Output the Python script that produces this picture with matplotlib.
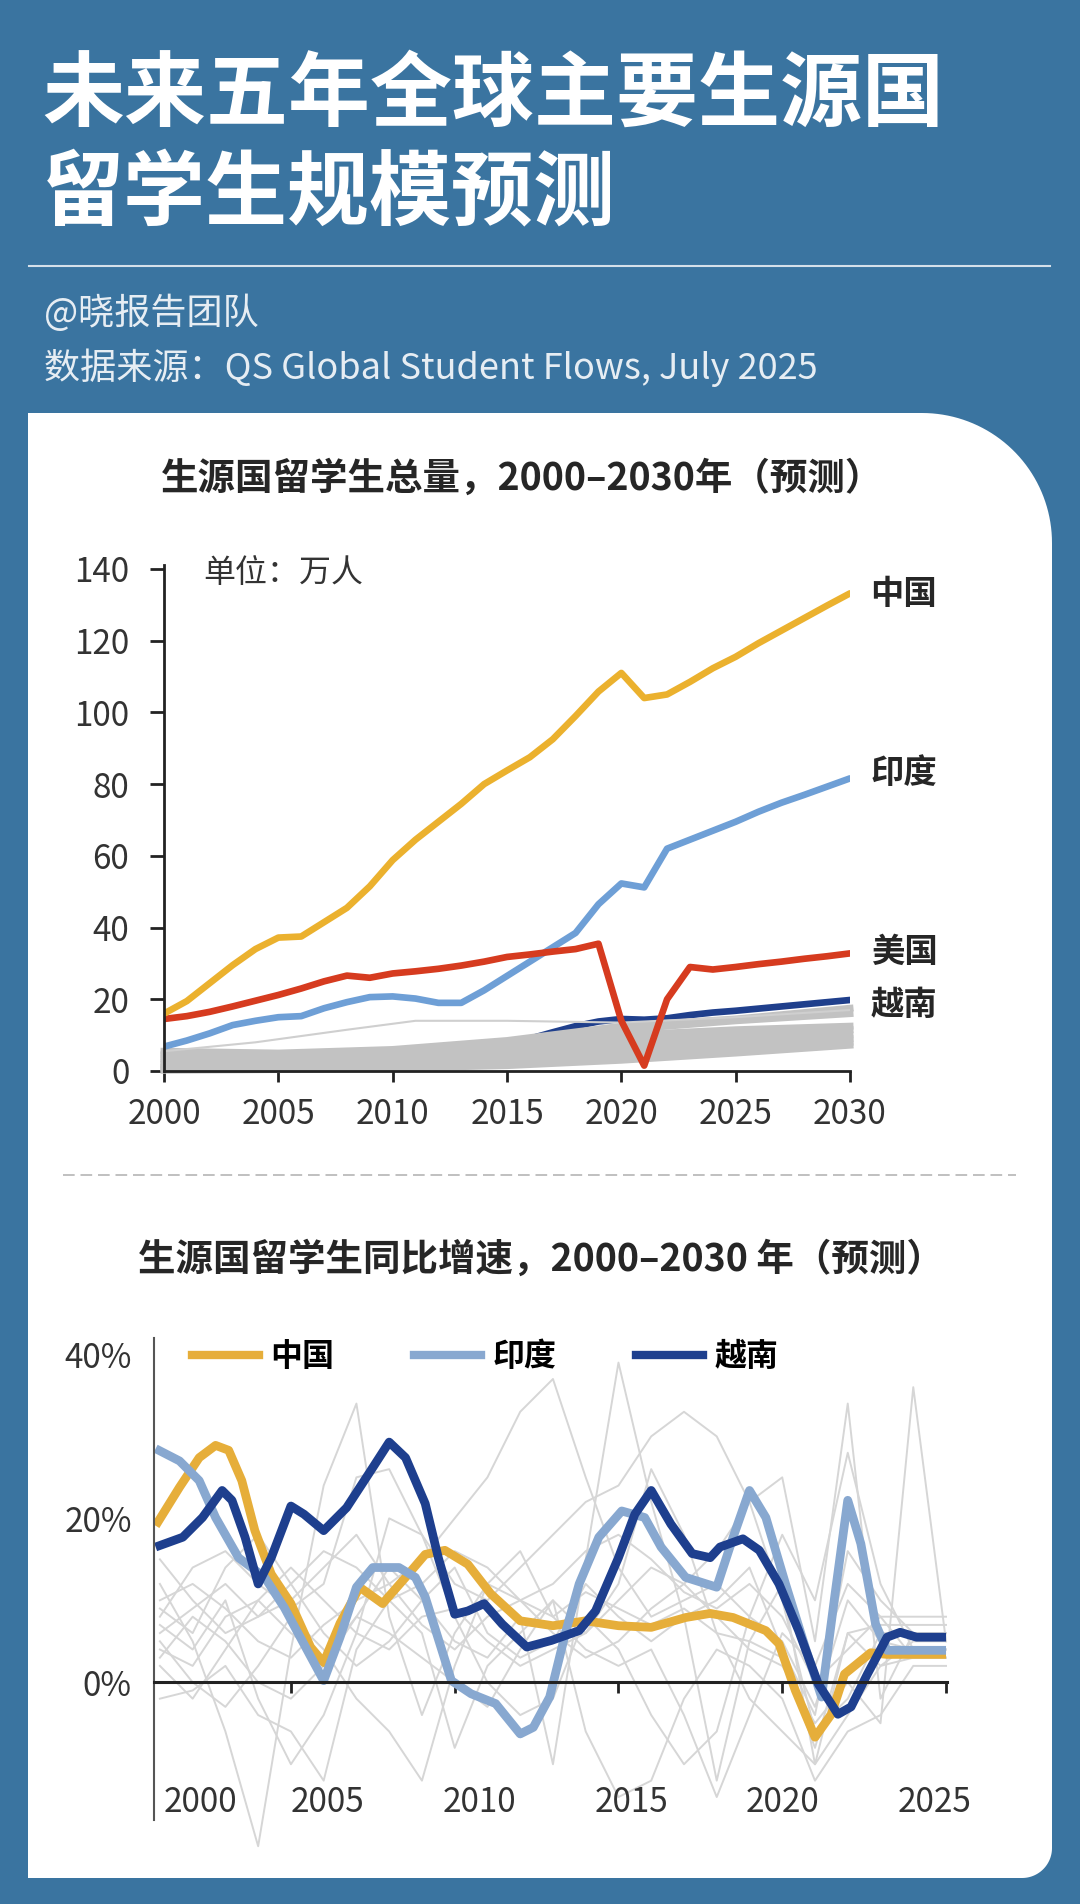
import numpy as np
import matplotlib
matplotlib.use('Agg')
from matplotlib import pyplot as plt
from matplotlib.patches import Polygon
from matplotlib.lines import Line2D
from matplotlib import transforms

plt.rcParams['font.family'] = ['Noto Sans CJK SC', 'DejaVu Sans']

##################################################################################
### DATA
##################################################################################

# chart 1: total outbound students (万人), 2000-2030
years1 = list(range(2000, 2031))
china_total = [16, 19.5, 24.5, 29.5, 34, 37.2, 37.5, 41.5, 45.5, 51.5, 58.8,
               64.5, 69.5, 74.5, 80, 83.8, 87.5, 92.5, 99, 105.8, 111,
               104, 105, 108.5, 112.3, 115.5, 119.3, 122.8, 126.3, 129.8, 133.2]
india_total = [6.8, 8.5, 10.5, 12.8, 14, 15, 15.3, 17.5, 19.2, 20.6, 20.8,
               20.2, 19, 19, 22.5, 26.5, 30.5, 34.5, 38.5, 46.5, 52.3,
               51.2, 62, 64.5, 67, 69.5, 72.3, 74.8, 77, 79.3, 81.6]
usa_total = [14.5, 15.3, 16.5, 18, 19.6, 21.2, 23, 25, 26.6, 26, 27.2,
             27.8, 28.5, 29.4, 30.5, 31.8, 32.5, 33.3, 34, 35.5, 14,
             1.5, 20, 29, 28.3, 29, 29.8, 30.5, 31.3, 32, 32.8]
vietnam_total = [0.5, 0.7, 0.9, 1.2, 1.5, 1.9, 2.3, 2.8, 3.3, 3.8, 4.2,
                 4.6, 5, 5.5, 6.3, 7.3, 9, 10.8, 12.5, 13.8, 14.5,
                 14.3, 14.7, 15.6, 16.3, 16.8, 17.4, 18, 18.6, 19.2, 19.8]
names1 = ['中国', '印度', '美国', '越南']
label_y1 = [133, 83, 33, 18.4]

# other origin countries (grey band)
gray_years1 = [2000, 2005, 2010, 2015, 2020, 2025, 2030]
gray_total = [
    [5.5, 5.0, 6.0, 8.5, 12.5, 14.5, 17.5],
    [4.5, 4.5, 5.5, 7.5, 11.5, 14.0, 16.0],
    [3.5, 3.5, 4.5, 6.5, 10.0, 11.5, 12.5],
    [2.5, 3.0, 4.0, 5.5, 8.5, 10.5, 11.5],
    [1.8, 2.0, 3.0, 4.5, 7.0, 9.0, 10.0],
    [1.0, 1.5, 2.2, 3.5, 5.5, 7.5, 9.0],
    [0.5, 0.8, 1.5, 2.5, 4.0, 6.0, 8.0],
    [0.2, 0.4, 0.8, 1.5, 3.0, 5.0, 7.2],
]
thin_years1 = [2000, 2004, 2008, 2011, 2015, 2020, 2025, 2030]
thin_total = [5.5, 8, 11.5, 14, 14, 13.5, 15, 17]

# chart 2: year-on-year growth (%)
china_g_x = [2000.87, 2001.6, 2002.2, 2002.7, 2003.1, 2003.5, 2003.9, 2004.4, 2005.0,
             2005.6, 2006.0, 2006.5, 2007.1, 2007.8, 2008.5, 2009.1, 2009.7, 2010.4,
             2011.1, 2012.0, 2013.0, 2014.0, 2015.0, 2016.0, 2017.05, 2017.8, 2018.5,
             2019.5, 2019.9, 2020.4, 2021.0, 2021.5, 2021.9, 2022.7, 2023.2, 2025.0]
china_g_y = [19.1, 23.8, 27.4, 28.9, 28.3, 24.6, 18.5, 13.2, 9.6,
             4.3, 2.4, 7.2, 11.6, 9.6, 12.8, 15.6, 16.1, 14.4,
             10.8, 7.5, 6.9, 7.5, 6.9, 6.7, 7.9, 8.4, 7.9,
             6.3, 4.7, -1.0, -6.7, -3.9, 1.0, 3.6, 3.4, 3.4]

india_g_x = [2000.87, 2001.6, 2002.2, 2002.7, 2003.4, 2004.2, 2004.8, 2005.5, 2006.0,
             2006.5, 2007.0, 2007.5, 2008.3, 2008.8, 2009.1, 2009.9, 2010.5, 2011.25,
             2012.0, 2012.4, 2012.9, 2013.4, 2013.8, 2014.4, 2015.1, 2015.8, 2016.3,
             2017.05, 2018.0, 2018.5, 2019.0, 2019.5, 2020.1, 2020.7, 2021.2, 2021.6,
             2022.0, 2022.4, 2022.85, 2023.2, 2025.0]
india_g_y = [28.5, 27.0, 24.6, 20.1, 15.2, 12.8, 9.1, 3.9, 0.2,
             5.5, 11.6, 14.0, 14.0, 12.8, 10.4, 0.2, -1.4, -2.6,
             -6.3, -5.5, -1.8, 6.3, 12.0, 17.7, 20.9, 20.1, 16.5,
             12.8, 11.6, 17.7, 23.4, 20.1, 12.0, 4.3, -1.8, 10.4,
             22.2, 16.9, 7.1, 3.9, 3.9]

vietnam_g_x = [2000.87, 2001.7, 2002.3, 2002.9, 2003.2, 2003.6, 2004.0, 2004.4, 2005.0,
               2005.4, 2006.0, 2006.7, 2007.5, 2008.0, 2008.5, 2009.1, 2009.5, 2010.0,
               2010.4, 2010.9, 2011.45, 2012.2, 2012.95, 2013.8, 2014.3, 2015.0, 2015.5,
               2016.0, 2016.6, 2017.25, 2017.8, 2018.1, 2018.8, 2019.3, 2019.9, 2020.5,
               2021.1, 2021.7, 2022.1, 2022.6, 2023.2, 2023.6, 2024.1, 2025.0]
vietnam_g_y = [16.5, 17.7, 20.1, 23.4, 22.2, 17.7, 12.0, 15.2, 21.5,
               20.5, 18.5, 21.3, 26.2, 29.3, 27.4, 21.8, 15.2, 8.3,
               8.7, 9.6, 7.1, 4.3, 5.1, 6.3, 8.7, 15.2, 20.5,
               23.4, 19.3, 15.7, 15.2, 16.5, 17.5, 16.1, 12.0, 6.3,
               -0.2, -3.9, -3.0, 1.0, 5.5, 6.1, 5.5, 5.5]

legend_names2 = ['中国', '印度', '越南']

gray_years2 = list(range(2001, 2026))
gray_growth = [
    [12, 5, -6, -20, 4, 24, 34, 8, -4, 6, 12, 10, 8, 11, 9, 7, 9, 6, 5, 3, -8, 6, 7, 7, 7],
    [6, 9, 12, 8, 10, 14, 18, 12, 15, 20, 25, 33, 37, 25, 14, 8, 10, 12, 8, 5, -3, 10, 5, 4, 4],
    [2, -2, 4, 10, 6, 3, 8, 14, 10, 5, 3, 8, -10, 15, 39, 22, 8, -12, 5, 12, -10, 6, 2, 5, 5],
    [8, 14, 16, 12, 9, 12, 25, 26, 18, 12, 10, 14, 18, 22, 24, 30, 33, 30, 22, 10, -6, -2, 6, 6, 6],
    [4, 2, 8, 10, 14, 10, 6, 4, 8, 9, 5, 2, 4, 6, 10, 14, 12, 16, 22, 25, 5, 34, -2, 6, 6],
    [10, 12, 9, 5, 3, 7, 10, 12, 7, 4, 8, 10, 6, 3, 5, 9, 12, 8, 4, 2, -5, 0, -5, 36, 5],
    [-2, -1, 2, -4, -6, -12, 4, 10, 6, -8, 2, 6, 10, -6, -14, -12, -2, 4, 2, -2, -12, -6, -4, 2, 2],
    [15, 10, 6, 8, 12, 16, 14, 10, 12, 16, 14, 10, 12, 16, 18, 15, 11, 9, 12, 8, 0, 4, 8, 8, 8],
    [5, 0, -3, 2, 8, 4, -2, -6, -12, 2, 12, 16, 8, 4, 2, 4, -4, -14, -4, 6, 2, 12, 8, 3, 3],
    [9, 6, 14, 18, 12, 6, 2, 5, 10, 14, 6, 3, 5, 12, 8, 5, 8, 10, 14, 4, -4, 16, 10, 6, 6],
    [7, 4, 10, -2, -10, -4, 6, 20, 18, 8, 0, -4, -2, 8, 4, -4, -10, -6, 8, 18, 10, 28, 12, 4, 4],
    [3, 8, 5, 0, -2, 2, 8, 6, 3, 0, -3, 4, 10, 6, 12, 26, 18, 6, -2, -6, -10, -4, 2, 3, 3],
]

# x labels of chart 2 sit where the source put them (not on the ticks)
xlab2 = ['2000', '2005', '2010', '2015', '2020', '2025']
xlab2_pos = [2002.25, 2006.13, 2010.77, 2015.41, 2020.02, 2024.66]

##################################################################################
### STYLE
##################################################################################
BLUE = '#3a74a0'
YELLOW1, LBLUE1, RED1, DBLUE1, GREY1 = '#ebb12e', '#6e9fd6', '#d63b1f', '#1f3f8c', '#c2c2c2'
YELLOW2, LBLUE2, DBLUE2, GREY2 = '#e6ae3a', '#88a8d0', '#1e3f8e', '#d6d6d6'
TXT = '#262626'
TICKSIZE = 24

W, H = 1080, 1904
fig = plt.figure(figsize=(W / 100, H / 100), dpi=100)
fig.patch.set_facecolor(BLUE)

# background canvas in pixel coords
bg = fig.add_axes([0, 0, 1, 1])
bg.set_xlim(0, W)
bg.set_ylim(H, 0)
bg.axis('off')

def panel_verts(x0, y0, x1, y1, r_tr, r_br):
    t = np.linspace(0, np.pi / 2, 40)
    v = [(x0, y0), (x1 - r_tr, y0)]
    cx, cy = x1 - r_tr, y0 + r_tr
    v += [(cx + r_tr * np.sin(a), cy - r_tr * np.cos(a)) for a in t]
    cx, cy = x1 - r_br, y1 - r_br
    v += [(cx + r_br * np.cos(a), cy + r_br * np.sin(a)) for a in t]
    v += [(x0, y1)]
    return v

bg.add_patch(Polygon(panel_verts(28, 413, 1052, 1878, 130, 30), closed=True,
                     facecolor='white', edgecolor='none'))

# header
bg.text(42, 96, '未来五年全球主要生源国', fontsize=59, weight='bold', color='white', va='center')
bg.text(42, 196, '留学生规模预测', fontsize=59, weight='bold', color='white', va='center')
bg.plot([29, 1050], [266, 266], color='#d5e0ea', lw=1.5)
bg.text(44, 313, '@晓报告团队', fontsize=26, color='#e6edf3', va='center', weight='light')
bg.text(44, 368, '数据来源：QS Global Student Flows, July 2025', fontsize=26,
        color='#e6edf3', va='center', weight='light')

# chart titles + separator
bg.text(522, 478, '生源国留学生总量，2000–2030年（预测）', fontsize=27, weight='bold',
        color=TXT, ha='center', va='center')
bg.plot([63, 1016], [1175, 1175], color='#b5b5b5', lw=1.2, dashes=(7, 3.5))
bg.text(541, 1259, '生源国留学生同比增速，2000–2030 年（预测）', fontsize=27, weight='bold',
        color=TXT, ha='center', va='center')

##################################################################################
### CHART 1: TOTALS
##################################################################################
ax1 = fig.add_axes([164 / W, 1 - 1071 / H, (850 - 164) / W, (1071 - 565) / H])
ax1.patch.set_alpha(0)
ax1.plot(years1, vietnam_total, color=DBLUE1, lw=4.8, solid_capstyle='round')
for g in gray_total:
    ax1.plot(gray_years1, g, color=GREY1, lw=5.0, clip_on=False)
ax1.plot(thin_years1, thin_total, color='#cfcfcf', lw=1.5)
ax1.plot(years1, india_total, color=LBLUE1, lw=4.8, solid_capstyle='round', solid_joinstyle='round')
ax1.plot(years1, usa_total, color=RED1, lw=4.8, solid_capstyle='round', solid_joinstyle='round')
ax1.plot(years1, china_total, color=YELLOW1, lw=4.8, solid_capstyle='round', solid_joinstyle='round')

ax1.set_xlim(2000, 2030)
ax1.set_ylim(0, 141.1)
ax1.set_xticks(range(2000, 2031, 5))
ax1.set_yticks(range(0, 141, 20))
for s in ['top', 'right']:
    ax1.spines[s].set_visible(False)
for s in ['left', 'bottom']:
    ax1.spines[s].set_color('#222222')
    ax1.spines[s].set_linewidth(2)
ax1.tick_params(axis='both', direction='out', width=2, color='#222222',
                labelsize=TICKSIZE, labelcolor='#333333')
ax1.tick_params(axis='y', length=10, pad=15)
ax1.tick_params(axis='x', length=8, pad=11)

for name, y in zip(names1, label_y1):
    ax1.text(2030.9, y, name, fontsize=24, weight='bold', color=TXT, va='center', clip_on=False)
ax1.text(2001.7, 138.9, '单位：万人', fontsize=23, color='#333333', va='center')

##################################################################################
### CHART 2: GROWTH
##################################################################################
ax2 = fig.add_axes([154 / W, 1 - 1820 / H, (947 - 154) / W, (1820 - 1338) / H])
ax2.patch.set_alpha(0)
for g in gray_growth:
    ax2.plot(gray_years2, g, color=GREY2, lw=1.4, clip_on=False)
ax2.plot(china_g_x, china_g_y, color=YELLOW2, lw=6.3, solid_capstyle='butt', solid_joinstyle='round')
ax2.plot(india_g_x, india_g_y, color=LBLUE2, lw=6.3, solid_capstyle='butt', solid_joinstyle='round')
ax2.plot(vietnam_g_x, vietnam_g_y, color=DBLUE2, lw=6.3, solid_capstyle='butt', solid_joinstyle='round')

ax2.set_xlim(2000.82, 2025.03)
ax2.set_ylim(-16.8, 42)
ax2.spines['top'].set_visible(False)
ax2.spines['right'].set_visible(False)
ax2.spines['left'].set_color('#555555')
ax2.spines['left'].set_linewidth(1.5)
ax2.spines['bottom'].set_position(('data', 0))
ax2.spines['bottom'].set_color('#222222')
ax2.spines['bottom'].set_linewidth(2.2)
ax2.set_xticks(range(2005, 2026, 5))
ax2.tick_params(axis='x', direction='out', length=8, width=2, color='#222222', labelbottom=False)
ax2.set_yticks([0, 20, 40])
ax2.set_yticklabels(['0%', '20%', '40%'])
ax2.tick_params(axis='y', length=0, pad=16, labelsize=TICKSIZE, labelcolor='#333333')

tr = transforms.blended_transform_factory(ax2.transData, ax2.transAxes)
for lab, x in zip(xlab2, xlab2_pos):
    ax2.text(x, 0.037, lab, transform=tr, ha='center', va='center', fontsize=TICKSIZE, color='#333333')

handles = [Line2D([], [], color=c, lw=6) for c in [YELLOW2, LBLUE2, DBLUE2]]
ax2.legend(handles, legend_names2, ncol=3, loc='center left',
           bbox_to_anchor=(192 / W, 1 - 1357 / H), bbox_transform=fig.transFigure,
           frameon=False, handlelength=2.1, handletextpad=0.35, columnspacing=2.5,
           borderpad=0, borderaxespad=0, prop=dict(size=23, weight='bold'))

fig.savefig('out.png', dpi=100, facecolor=fig.get_facecolor())
